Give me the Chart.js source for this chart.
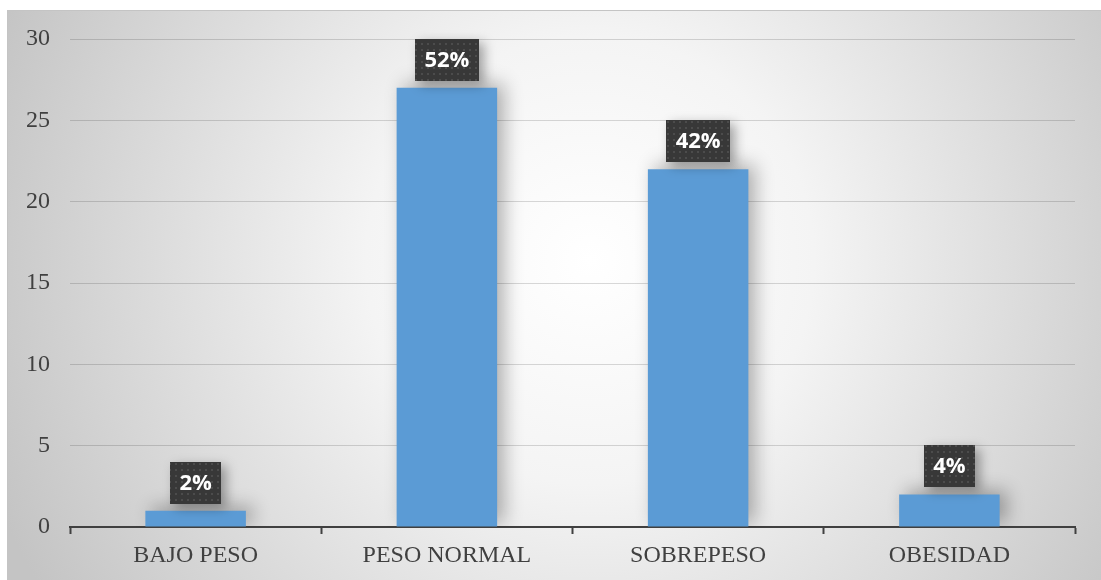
<!DOCTYPE html>
<html>
<head>
<meta charset="utf-8">
<script src="https://cdn.jsdelivr.net/npm/chart.js@4.4.1/dist/chart.umd.min.js"></script>
<style>
  html, body { margin: 0; padding: 0; background: #ffffff; }
  #wrap { width: 1101px; height: 580px; position: relative; }
</style>
</head>
<body>
<div id="wrap"><canvas id="chart" width="1101" height="580"></canvas></div>
<script>
// Categories and counts per BMI group
const categories = ['BAJO PESO', 'PESO NORMAL', 'SOBREPESO', 'OBESIDAD'];
const counts = [1, 27, 22, 2];
const yTicks = [0, 5, 10, 15, 20, 25, 30];

const total = counts.reduce((a, b) => a + b, 0);
const percentLabels = counts.map(v => Math.round(v / total * 100) + '%');

const SERIF = '"Liberation Serif", "Times New Roman", serif';
const TEXT_COLOR = '#404040';

// Soft radial backdrop behind the whole chart
const backdrop = {
  id: 'backdrop',
  beforeDraw(chart) {
    const ctx = chart.ctx;
    const x0 = 7, y0 = 10, w = chart.width - x0, h = chart.height - y0;
    ctx.save();
    const g = ctx.createRadialGradient(590, 260, 0, 590, 260, 640);
    g.addColorStop(0, '#ffffff');
    g.addColorStop(0.35, '#f4f4f4');
    g.addColorStop(1, '#c4c4c4');
    ctx.fillStyle = g;
    ctx.fillRect(x0, y0, w, h);
    ctx.strokeStyle = '#c4c4c4';
    ctx.lineWidth = 1;
    ctx.strokeRect(x0 + 0.5, y0 + 0.5, w, h);
    ctx.restore();
  }
};

// Dotted dark fill used for the value callouts
function dotPattern(ctx) {
  const tile = document.createElement('canvas');
  tile.width = 6; tile.height = 6;
  const t = tile.getContext('2d');
  t.fillStyle = '#383838';
  t.fillRect(0, 0, 6, 6);
  t.fillStyle = '#4c4c4c';
  t.fillRect(1, 1, 2, 2);
  return ctx.createPattern(tile, 'repeat');
}

// Shadowed bars plus percentage callouts above each bar
const barDecor = {
  id: 'barDecor',
  beforeDatasetsDraw(chart) {
    const ctx = chart.ctx;
    ctx.save();
    ctx.shadowColor = 'rgba(0,0,0,0.3)';
    ctx.shadowBlur = 18;
    ctx.shadowOffsetX = 7;
    ctx.shadowOffsetY = -4;
  },
  afterDatasetsDraw(chart) {
    const ctx = chart.ctx;
    ctx.restore();
    const meta = chart.getDatasetMeta(0);
    const pattern = dotPattern(ctx);
    ctx.save();
    ctx.font = 'bold 22px "Open Sans", "DejaVu Sans", sans-serif';
    meta.data.forEach((bar, i) => {
      const label = percentLabels[i];
      const tw = ctx.measureText(label).width;
      const bw = Math.round(tw + 19);
      const bh = 42;
      const bx = Math.round(bar.x - bw / 2);
      const by = Math.round(bar.y - 7 - bh);
      ctx.save();
      ctx.shadowColor = 'rgba(0,0,0,0.35)';
      ctx.shadowBlur = 12;
      ctx.shadowOffsetX = 5;
      ctx.shadowOffsetY = 4;
      ctx.fillStyle = pattern;
      ctx.fillRect(bx, by, bw, bh);
      ctx.restore();
      ctx.fillStyle = '#ffffff';
      ctx.textAlign = 'center';
      ctx.textBaseline = 'middle';
      ctx.fillText(label, bar.x, by + bh / 2 + 1);
    });
    ctx.restore();
  }
};

new Chart(document.getElementById('chart'), {
  type: 'bar',
  data: {
    labels: categories,
    datasets: [{
      data: counts,
      backgroundColor: '#5b9bd5',
      borderWidth: 0,
      barPercentage: 0.8,
      categoryPercentage: 0.5
    }]
  },
  options: {
    responsive: false,
    animation: false,
    devicePixelRatio: 1,
    layout: { padding: { left: 0, right: 26, top: 39, bottom: 0 } },
    plugins: { legend: { display: false }, tooltip: { enabled: false } },
    scales: {
      x: {
        grid: {
          drawOnChartArea: false,
          drawTicks: true,
          tickLength: 7,
          tickWidth: 2,
          tickColor: '#404040',
          offset: true
        },
        border: { display: true, color: '#404040', width: 2 },
        ticks: {
          color: TEXT_COLOR,
          font: { family: SERIF, size: 24 },
          padding: 7,
          maxRotation: 0
        },
        afterFit(scale) { scale.height = 53; }
      },
      y: {
        min: 0,
        max: 30,
        afterBuildTicks(scale) { scale.ticks = yTicks.map(v => ({ value: v })); },
        grid: { color: 'rgba(0,0,0,0.15)', lineWidth: 1, drawTicks: false },
        border: { display: false },
        ticks: {
          color: TEXT_COLOR,
          font: { family: SERIF, size: 24 },
          padding: 20
        },
        afterFit(scale) { scale.width = 70; }
      }
    }
  },
  plugins: [backdrop, barDecor]
});
</script>
</body>
</html>
